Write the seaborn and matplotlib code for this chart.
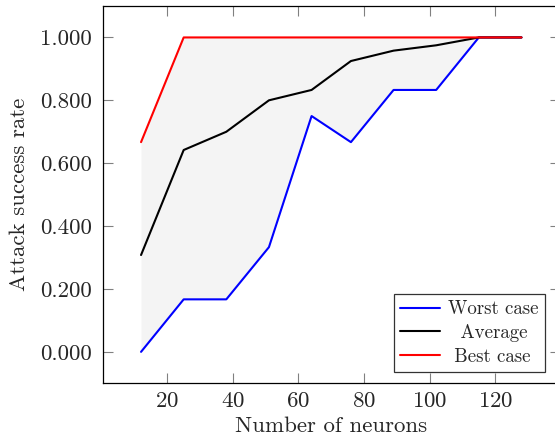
import numpy as np
import pandas as pd
import matplotlib
matplotlib.use("Agg")
import matplotlib.pyplot as plt
from matplotlib.ticker import FormatStrFormatter
import seaborn as sns

# data
neurons = [12, 25, 38, 51, 64, 76, 89, 102, 115, 128]
worst = [0.0, 0.167, 0.167, 0.333, 0.75, 0.667, 0.833, 0.833, 1.0, 1.0]
average = [0.308, 0.642, 0.7, 0.8, 0.833, 0.925, 0.958, 0.975, 1.0, 1.0]
best = [0.667, 1.0, 1.0, 1.0, 1.0, 1.0, 1.0, 1.0, 1.0, 1.0]
series_names = ["Worst case", "Average", "Best case"]
series_colors = ["#0000ff", "#000000", "#ff0000"]

sns.set_style("ticks")
plt.rcParams["font.family"] = "serif"
plt.rcParams["font.serif"] = ["cmr10", "DejaVu Serif"]
plt.rcParams["mathtext.fontset"] = "cm"
plt.rcParams["axes.formatter.use_mathtext"] = True

df = pd.DataFrame({
    "neurons": neurons * 3,
    "rate": worst + average + best,
    "case": [n for n in series_names for _ in neurons],
})

fig = plt.figure(figsize=(5.55, 4.47), dpi=100)
ax = fig.add_axes([103 / 555, 63.7 / 447, (559.5 - 103) / 555, 377.3 / 447])

ax.fill_between(neurons, worst, best, color="#f4f4f4", linewidth=0, zorder=1)
sns.lineplot(data=df, x="neurons", y="rate", hue="case", hue_order=series_names,
             palette=dict(zip(series_names, series_colors)), linewidth=1.5,
             legend=False, ax=ax, zorder=3)

ax.set_xlim(0.4, 139.6)
ax.set_ylim(-0.1, 1.1)
ax.set_xticks([20, 40, 60, 80, 100, 120])
ax.set_yticks([0, 0.2, 0.4, 0.6, 0.8, 1.0])
ax.yaxis.set_major_formatter(FormatStrFormatter("%.3f"))
ax.tick_params(direction="in", length=7, width=0.8, color="#808080",
               labelsize=16.5, top=True, right=True, pad=6)
ax.tick_params(axis="y", pad=8)
for s in ax.spines.values():
    s.set_linewidth(0.9)
    s.set_color("black")

ax.set_xlabel("Number of neurons", fontsize=16.5, labelpad=4)
ax.set_ylabel("Attack success rate", fontsize=16.5, labelpad=8)

leg = ax.legend(ax.lines[:3], ["Worst case", "  Average", " Best case"],
                loc="lower right", bbox_to_anchor=(545 / 555, 74.7 / 447),
                bbox_transform=fig.transFigure, fontsize=13.6,
                frameon=True, fancybox=False, edgecolor="black",
                handlelength=2.1, handletextpad=0.4, labelspacing=0.3,
                borderpad=0.36, borderaxespad=0)
leg.get_frame().set_linewidth(0.9)

fig.savefig("out.png", dpi=100)
